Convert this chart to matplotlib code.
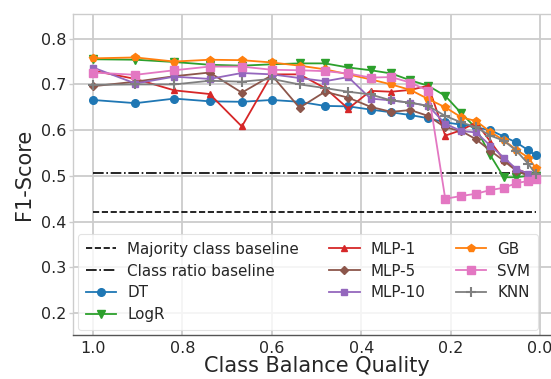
import matplotlib
matplotlib.use("Agg")
import matplotlib.pyplot as plt

# ---- data ----
balance_quality = [1.000, 0.905, 0.818, 0.739, 0.667, 0.600, 0.538, 0.481, 0.429, 0.379,
                   0.333, 0.290, 0.250, 0.212, 0.176, 0.143, 0.111, 0.081, 0.053, 0.026, 0.010]

dt = [0.666, 0.659, 0.669, 0.663, 0.662, 0.666, 0.662, 0.653, 0.652, 0.645,
      0.639, 0.633, 0.626, 0.617, 0.612, 0.606, 0.600, 0.586, 0.573, 0.556, 0.545]
logr = [0.755, 0.754, 0.749, 0.743, 0.741, 0.744, 0.746, 0.746, 0.737, 0.731,
        0.724, 0.709, 0.697, 0.675, 0.637, 0.604, 0.545, 0.497, 0.497, 0.500, 0.500]
mlp1 = [0.730, 0.712, 0.687, 0.679, 0.608, 0.722, 0.722, 0.692, 0.647, 0.686,
        0.684, 0.688, 0.697, 0.588, 0.600, 0.617, 0.575, 0.535, 0.515, 0.505, 0.500]
mlp5 = [0.696, 0.706, 0.718, 0.726, 0.682, 0.720, 0.649, 0.684, 0.671, 0.651,
        0.640, 0.644, 0.631, 0.606, 0.598, 0.580, 0.555, 0.533, 0.511, 0.500, 0.496]
mlp10 = [0.737, 0.702, 0.717, 0.712, 0.725, 0.722, 0.714, 0.707, 0.716, 0.669,
         0.665, 0.660, 0.653, 0.614, 0.598, 0.595, 0.566, 0.540, 0.515, 0.505, 0.500]
gb = [0.757, 0.759, 0.750, 0.754, 0.753, 0.748, 0.741, 0.733, 0.722, 0.711,
      0.700, 0.688, 0.668, 0.650, 0.628, 0.620, 0.596, 0.578, 0.557, 0.540, 0.518]
svm = [0.726, 0.721, 0.731, 0.739, 0.739, 0.732, 0.731, 0.729, 0.724, 0.715,
       0.716, 0.704, 0.686, 0.450, 0.456, 0.461, 0.469, 0.474, 0.484, 0.489, 0.493]
knn = [0.699, 0.700, 0.700, 0.708, 0.706, 0.712, 0.700, 0.692, 0.684, 0.678,
       0.665, 0.660, 0.653, 0.631, 0.617, 0.606, 0.588, 0.577, 0.555, 0.526, 0.504]

majority_baseline = 0.422
class_ratio_baseline = 0.506

series_names = ["DT", "LogR", "MLP-1", "MLP-5", "MLP-10", "GB", "SVM", "KNN"]
series_values = [dt, logr, mlp1, mlp5, mlp10, gb, svm, knn]
series_colors = ["#1f77b4", "#2ca02c", "#d62728", "#8c564b", "#9467bd", "#ff7f0e", "#e377c2", "#7f7f7f"]
series_markers = ["o", "v", "^", "D", "s", "p", "s", "+"]
series_msizes = [5.5, 5.5, 5, 4.5, 4.5, 5.5, 5.5, 7]

# ---- figure ----
fig = plt.figure(figsize=(5.51, 3.79), dpi=100)
W, H = 551, 379
left_px, right_px, top_px, bottom_px = 73, 560, 14, 335
ax = fig.add_axes([left_px / W, 1 - bottom_px / H, (right_px - left_px) / W, (bottom_px - top_px) / H])

ax.set_facecolor("white")
ax.grid(True, color="#cccccc", linewidth=1.3)
ax.set_axisbelow(True)
for side in ["left", "top", "right"]:
    ax.spines[side].set_color("#cccccc")
    ax.spines[side].set_linewidth(1.0)
ax.spines["bottom"].set_color("#555555")
ax.spines["bottom"].set_linewidth(1.0)

x0, x1 = balance_quality[0], balance_quality[-1]
ax.plot([x0, x1], [majority_baseline] * 2, color="black", linestyle="--", linewidth=1.2,
        label="Majority class baseline")
ax.plot([x0, x1], [class_ratio_baseline] * 2, color="black", linestyle="-.", linewidth=1.2,
        label="Class ratio baseline")

for name, vals, col, mk, ms in zip(series_names, series_values, series_colors, series_markers, series_msizes):
    ax.plot(balance_quality, vals, color=col, marker=mk, markersize=ms, linewidth=1.3,
            markeredgewidth=1.0 if mk != "+" else 1.5, label=name)

ax.set_xlim(1.0447, -0.0447)
ax.set_ylim(0.152, 0.854)
ax.set_xticks([1.0, 0.8, 0.6, 0.4, 0.2, 0.0])
ax.set_yticks([0.2, 0.3, 0.4, 0.5, 0.6, 0.7, 0.8])
ax.tick_params(axis="both", labelsize=11.5, colors="#cccccc", labelcolor="#262626",
               length=3, width=1.0, pad=2)
ax.tick_params(axis="x", length=0, pad=4)

ax.set_xlabel("Class Balance Quality", fontsize=15, color="#262626", labelpad=0.5)
ax.set_ylabel("F1-Score", fontsize=15, color="#262626", labelpad=5)

leg = ax.legend(loc="lower left", ncol=3, fontsize=10.9, frameon=True, fancybox=True,
                handlelength=2.0, handletextpad=0.73, columnspacing=2.0, labelspacing=0.45,
                borderaxespad=0.35, borderpad=0.5)
leg.get_frame().set_edgecolor("#dddddd")
leg.get_frame().set_linewidth(0.8)
for t in leg.get_texts():
    t.set_color("#262626")

fig.savefig("out.png", dpi=100)
